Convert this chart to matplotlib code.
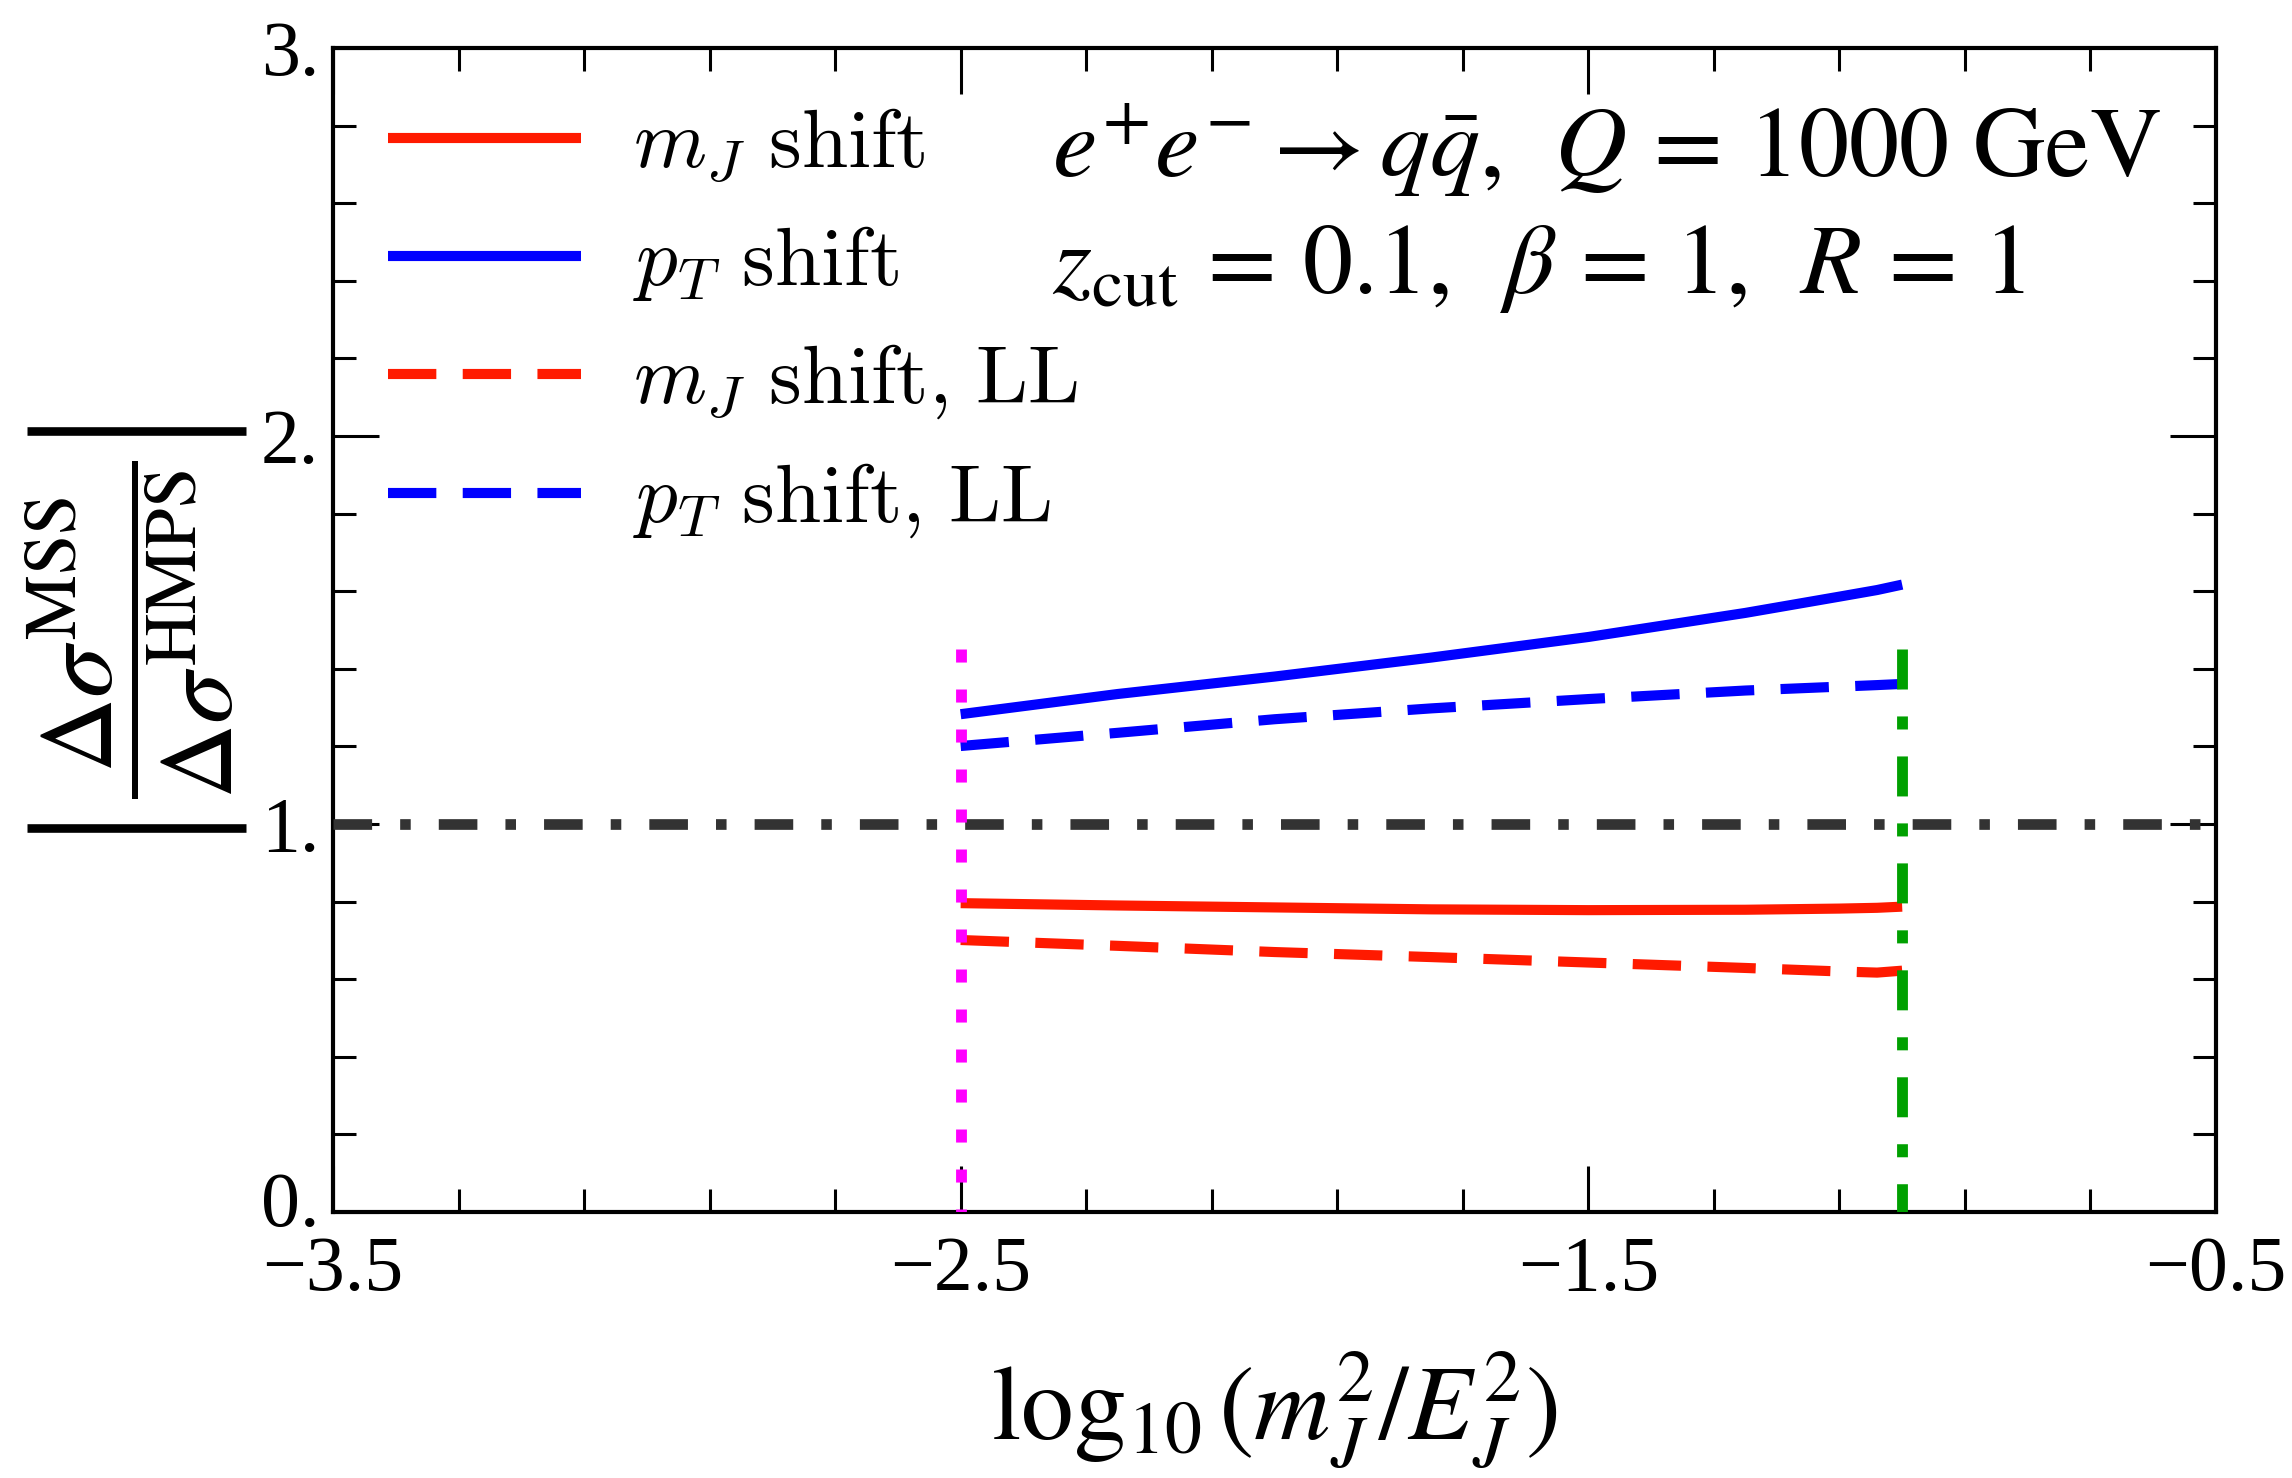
import numpy as np
import matplotlib
matplotlib.use("Agg")
import matplotlib.pyplot as plt
from matplotlib.ticker import FixedLocator, FixedFormatter
from matplotlib.font_manager import FontProperties
from matplotlib.lines import Line2D
from matplotlib.transforms import ScaledTranslation

plt.rcParams['font.family'] = ['Liberation Serif', 'DejaVu Serif']
plt.rcParams['mathtext.fontset'] = 'stix'
plt.rcParams['lines.scale_dashes'] = False

# ---- data ----
x_vals = [-2.5, -2.25, -2.0, -1.75, -1.5, -1.25, -1.1, -1.04, -1.0]
pt_shift = [1.283, 1.335, 1.380, 1.429, 1.482, 1.544, 1.586, 1.603, 1.617]
pt_shift_ll = [1.201, 1.235, 1.270, 1.298, 1.322, 1.344, 1.354, 1.358, 1.361]
mj_shift = [0.796, 0.790, 0.785, 0.780, 0.778, 0.779, 0.782, 0.784, 0.787]
mj_shift_ll = [0.701, 0.686, 0.670, 0.657, 0.643, 0.629, 0.620, 0.617, 0.622]

ref_level = 1.0
vline_lo = -2.5
vline_hi = -1.0
vline_top = 1.45

x_major = [-3.5, -2.5, -1.5, -0.5]
x_major_labels = ['\u22123.5', '\u22122.5', '\u22121.5', '\u22120.5']
y_major = [0.0, 1.0, 2.0, 3.0]
y_major_labels = ['0.', '1.', '2.', '3.']

RED = '#ff1a00'
BLUE = '#0000ff'

W, H = 2292, 1478
fig = plt.figure(figsize=(W / 100, H / 100), dpi=100)
ax = fig.add_axes([333/W, 1-1212/H, (2216-333)/W, (1212-48)/H])

lw = 7.3
l1, = ax.plot(x_vals, mj_shift, color=RED, lw=lw, solid_capstyle='butt', zorder=3)
l2, = ax.plot(x_vals, pt_shift, color=BLUE, lw=lw, solid_capstyle='butt', zorder=3)
l3, = ax.plot(x_vals, mj_shift_ll, color=RED, lw=lw, linestyle=(0, (34.8, 19.0)),
              dash_capstyle='butt', zorder=3)
l4, = ax.plot(x_vals, pt_shift_ll, color=BLUE, lw=lw, linestyle=(0, (34.8, 19.0)),
              dash_capstyle='butt', zorder=3)

ax.plot([-3.5, -0.5], [ref_level, ref_level], color='#333333', lw=7.7,
        linestyle=(0, (27.8, 20.2, 7.6, 20.2)), dash_capstyle='butt', zorder=4)
ax.plot([vline_lo, vline_lo], [vline_top, 0], color='#ff00ff', lw=7.8,
        linestyle=(0, (9.4, 19.4)), dash_capstyle='butt', zorder=5)
ax.plot([vline_hi, vline_hi], [vline_top, 0], color='#00a000', lw=7.8,
        linestyle=(0, (28.8, 19.4, 9.4, 19.4)), dash_capstyle='butt', zorder=5)

ax.set_xlim(-3.5, -0.5)
ax.set_ylim(0, 3)

ax.xaxis.set_major_locator(FixedLocator(x_major))
ax.xaxis.set_major_formatter(FixedFormatter(x_major_labels))
ax.xaxis.set_minor_locator(FixedLocator(np.arange(-3.5, -0.49, 0.2)))
ax.yaxis.set_major_locator(FixedLocator(y_major))
ax.yaxis.set_major_formatter(FixedFormatter(y_major_labels))
ax.yaxis.set_minor_locator(FixedLocator(np.arange(0, 3.01, 0.2)))

ax.tick_params(which='both', direction='in', top=True, right=True, width=2.2,
               labelsize=56, color='black')
ax.tick_params(which='major', length=33)
ax.tick_params(which='minor', length=16.5)
ax.tick_params(axis='y', which='major', pad=10)
ax.tick_params(axis='x', which='major', pad=17)
for s in ax.spines.values():
    s.set_linewidth(3.0)

# lift the "0." label a little, as in the reference
fig.canvas.draw()
zero_lbl = ax.yaxis.get_major_ticks()[0].label1
zero_lbl.set_transform(zero_lbl.get_transform() + ScaledTranslation(0, 0.13, fig.dpi_scale_trans))

ax.set_xlabel(r'$\log_{10}(m_J^2/E_J^2)$', fontsize=76)
ax.xaxis.set_label_coords(0.5, -0.118)
ax.xaxis.label.set_va('top')

ax.set_ylabel(r'$\dfrac{\Delta\sigma^{\mathrm{MSS}}}{\Delta\sigma^{\mathrm{HMPS}}}$',
              fontsize=75)
ax.yaxis.label.set_va('center')
ax.yaxis.set_label_coords((131-333)/1883, 0.5)

# absolute-value bars around the y label
for yb in (431, 828):
    fig.add_artist(Line2D([27/W, 246/W], [1-yb/H, 1-yb/H], color='black', lw=6.2,
                          solid_capstyle='butt', transform=fig.transFigure))

leg_font = FontProperties(family='DejaVu Serif', size=60, math_fontfamily='cm')
ax.legend([l1, l2, l3, l4],
          [r'$m_J\ \mathrm{shift}$', r'$p_T\ \mathrm{shift}$',
           r'$m_J\ \mathrm{shift{,}\ LL}$', r'$p_T\ \mathrm{shift{,}\ LL}$'],
          loc='upper left', bbox_to_anchor=((388-333)/1883, 1-(104-48)/1164),
          frameon=False, prop=leg_font, handlelength=2.31, handletextpad=0.63,
          labelspacing=0.45, borderpad=0, borderaxespad=0)

fig.text(1052/W, 1-177/H,
         r'$e^{+}e^{-}\rightarrow q\bar{q},\ \,Q\,=\,1000\ \mathrm{GeV}$',
         fontsize=72, ha='left', va='baseline')
fig.text(1052/W, 1-293/H,
         r'$z_{\mathrm{cut}}\,=\,0.1,\ \,\beta\,=\,1,\ \,R\,=\,1$',
         fontsize=72, ha='left', va='baseline')

fig.savefig('out.png', dpi=100)
